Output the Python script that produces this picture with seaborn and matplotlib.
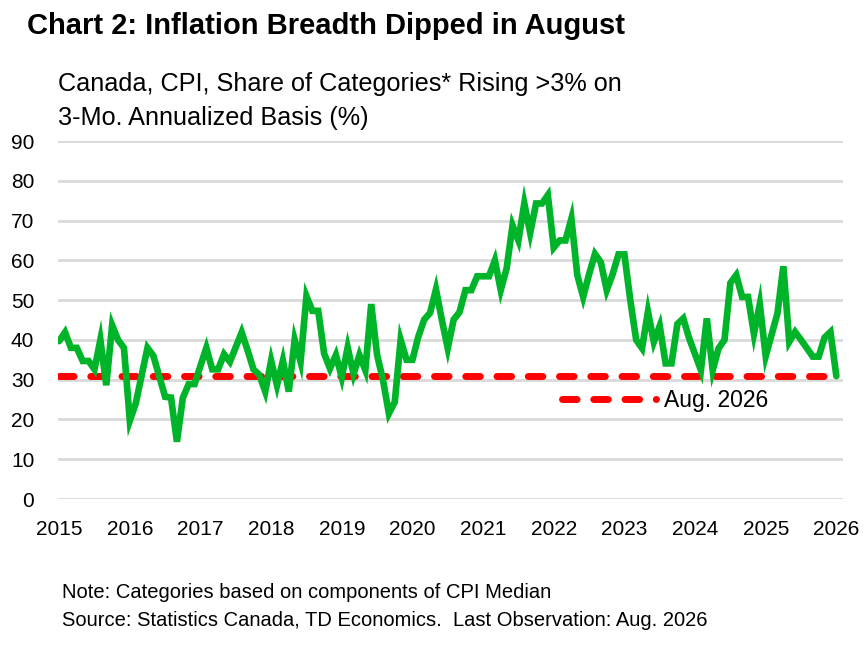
import numpy as np
import pandas as pd
import matplotlib
matplotlib.use('Agg')
import matplotlib.pyplot as plt
import seaborn as sns

# data (monthly, Jan 2015 .. last obs)
share_rising = [
    39.7, 41.9, 38.0, 38.0, 34.7, 34.7, 32.6, 40.0, 28.6, 43.7, 40.0, 38.0,
    19.7, 24.0, 31.0, 38.0, 36.0, 30.8, 25.7, 25.5, 14.4, 25.4, 28.9, 28.9,
    33.5, 38.0, 32.6, 32.6, 36.4, 34.5, 38.2, 41.9, 37.4, 32.6, 31.2, 27.0,
    34.8, 28.6, 34.8, 27.0, 40.0, 34.5, 51.0, 47.3, 47.3, 36.6, 32.8, 36.2,
    30.6, 38.1, 31.4, 36.2, 32.4, 49.0, 36.2, 29.9, 21.5, 24.4, 40.0, 35.0,
    35.0, 40.8, 45.1, 46.8, 52.7, 45.0, 37.9, 45.1, 47.0, 52.5, 52.5, 56.0,
    56.0, 56.0, 60.0, 52.5, 58.0, 68.8, 65.0, 74.3, 66.9, 74.3, 74.3, 76.4,
    63.2, 65.0, 65.0, 70.5, 56.3, 50.8, 56.5, 61.6, 59.5, 52.5, 56.5, 61.5,
    61.5, 50.0, 40.0, 37.9, 47.1, 39.5, 43.5, 34.1, 34.1, 44.0, 45.4, 40.4,
    36.4, 32.4, 45.4, 32.4, 37.9, 40.0, 54.3, 56.3, 50.8, 50.8, 41.5, 49.0,
    35.9, 41.3, 46.7, 58.5, 39.5, 42.0, 40.0, 37.9, 35.8, 35.8, 40.6, 42.0,
    30.9,
]
last_obs_value = 30.9
last_obs_label = 'Aug. 2026'
year_labels = ['2015', '2016', '2017', '2018', '2019', '2020',
               '2021', '2022', '2023', '2024', '2025', '2026']

GREEN = '#00B42A'
RED = '#FF0000'
FONT = ['Liberation Sans', 'DejaVu Sans']

sns.set_theme(style='white')
plt.rcParams['font.family'] = FONT
plt.rcParams['axes.unicode_minus'] = False
plt.rcParams['text.color'] = 'black'

df = pd.DataFrame({'month': np.arange(len(share_rising)),
                   'share': share_rising})
df['ref'] = last_obs_value

fig = plt.figure(figsize=(8.68, 6.48), dpi=100)
ax = fig.add_axes([0.0668, 0.2299, 0.9042, 0.5525])

# 기준선 (마지막 관측치)
sns.lineplot(data=df, x='month', y='ref', ax=ax, color=RED, linewidth=5,
             label=last_obs_label, zorder=2)
ax.lines[-1].set_dashes((2.1, 2.4))
ax.lines[-1].set_dash_capstyle('round')

sns.lineplot(data=df, x='month', y='share', ax=ax, color=GREEN, linewidth=4.8,
             legend=False, zorder=3)
ax.lines[-1].set_solid_joinstyle('miter')

ax.set_xlim(-0.2, 133.1)
ax.set_ylim(0, 90)
ax.set_yticks(np.arange(0, 91, 10))
ax.set_xticks(np.arange(0, 12 * len(year_labels), 12))
ax.set_xticklabels(year_labels)
ax.set_xlabel('')
ax.set_ylabel('')
ax.tick_params(axis='both', length=0, labelsize=15, colors='black')
ax.tick_params(axis='y', pad=17)
ax.tick_params(axis='x', pad=15)
ax.yaxis.grid(True, color='#D9D9D9', linewidth=2)
ax.xaxis.grid(False)
for s in ax.spines.values():
    s.set_visible(False)

leg = ax.legend(loc='center left', bbox_to_anchor=(0.642, 0.274), frameon=False,
                fontsize=16.5, handlelength=4.1, handletextpad=0.35,
                borderaxespad=0, borderpad=0)
for t in leg.get_texts():
    t.set_color('black')

fig.text(0.031, 0.96, 'Chart 2: Inflation Breadth Dipped in August',
         fontsize=21, fontweight='bold', va='center', ha='left')
fig.text(0.0668, 0.870, 'Canada, CPI, Share of Categories* Rising >3% on',
         fontsize=18.2, va='center', ha='left')
fig.text(0.0668, 0.818, '3-Mo. Annualized Basis (%)',
         fontsize=18.2, va='center', ha='left')
fig.text(0.0714, 0.085, 'Note: Categories based on components of CPI Median',
         fontsize=14.5, va='center', ha='left')
fig.text(0.0714, 0.043,
         'Source: Statistics Canada, TD Economics.  Last Observation: Aug. 2026',
         fontsize=14.5, va='center', ha='left')

fig.savefig('out.png', dpi=100)
